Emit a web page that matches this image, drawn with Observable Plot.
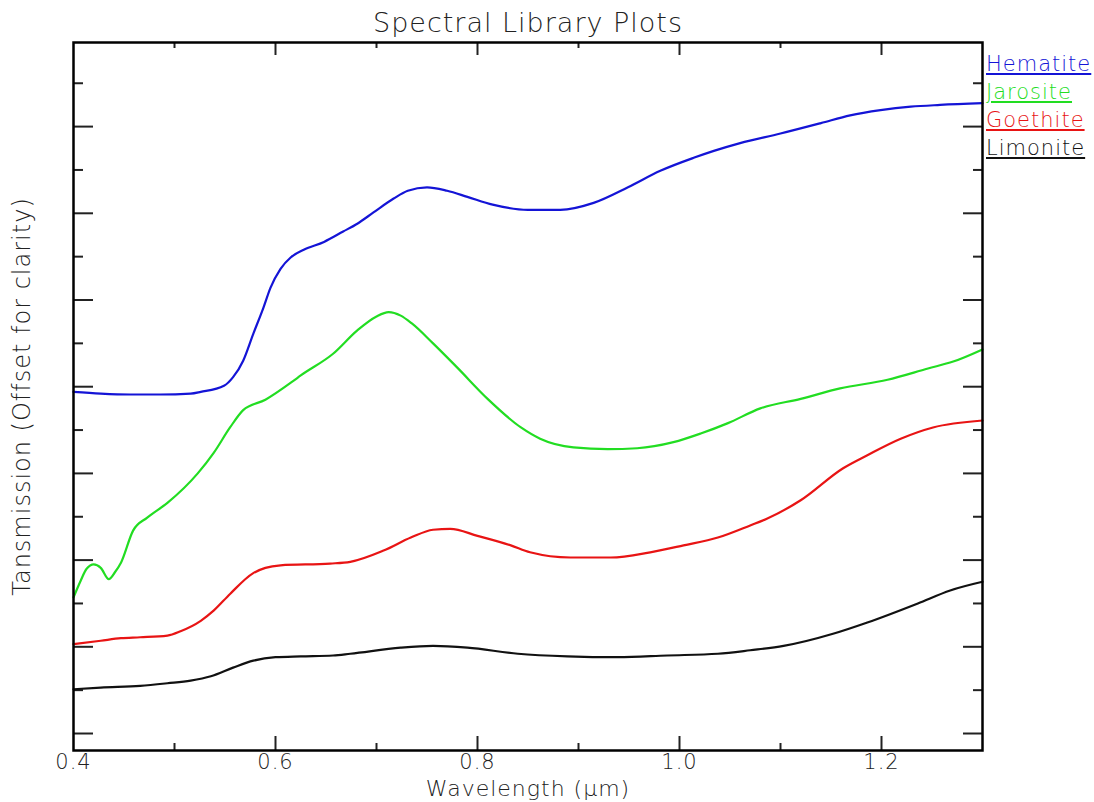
<!DOCTYPE html>
<html>
<head>
<meta charset="utf-8">
<script src="https://cdn.jsdelivr.net/npm/d3@7"></script>
<script src="https://cdn.jsdelivr.net/npm/@observablehq/plot@0.6"></script>
<style>
  html, body { margin: 0; padding: 0; background: #fff; }
  #wrap { position: relative; width: 1094px; height: 802px; }
  #chart svg { display: block; }
  #legend { position: absolute; left: 986px; top: 50px; font-family: 'DejaVu Sans', sans-serif;
            font-weight: 200; font-size: 21px; line-height: 28px; letter-spacing: 1px; }
  #legend div { text-decoration: underline; text-decoration-thickness: 1.5px; text-underline-offset: 2px; white-space: nowrap; }
</style>
</head>
<body>
<div id="wrap">
  <div id="chart"></div>
  <div id="legend"></div>
</div>
<script>
// Wavelength (µm) and offset transmission for each mineral
const hematiteW = [0.400,0.427,0.456,0.486,0.516,0.526,0.549,0.558,0.568,0.578,0.588,0.595,0.605,0.615,0.628,0.648,0.667,0.681,0.697,0.717,0.731,0.750,0.770,0.790,0.815,0.850,0.882,0.915,0.949,0.981,1.014,1.034,1.060,1.100,1.140,1.169,1.199,1.229,1.258,1.300];
const hematiteV = [3.94,3.92,3.91,3.91,3.92,3.94,4.01,4.11,4.30,4.61,4.91,5.14,5.36,5.49,5.58,5.67,5.79,5.88,6.01,6.17,6.26,6.30,6.26,6.19,6.10,6.04,6.04,6.12,6.30,6.49,6.64,6.72,6.81,6.92,7.04,7.13,7.19,7.23,7.25,7.27];

const jarositeW = [0.400,0.407,0.413,0.420,0.427,0.435,0.441,0.447,0.459,0.473,0.493,0.523,0.539,0.555,0.568,0.590,0.618,0.625,0.657,0.681,0.700,0.712,0.724,0.735,0.756,0.780,0.810,0.843,0.862,0.895,0.929,0.958,0.994,1.021,1.048,1.080,1.120,1.159,1.206,1.246,1.271,1.300];
const jarositeV = [1.57,1.76,1.90,1.95,1.91,1.78,1.86,1.97,2.34,2.49,2.66,3.00,3.24,3.53,3.73,3.85,4.07,4.13,4.38,4.65,4.81,4.86,4.82,4.73,4.50,4.22,3.86,3.53,3.40,3.30,3.28,3.29,3.36,3.46,3.58,3.75,3.86,3.98,4.08,4.21,4.29,4.43];

const goethiteW = [0.400,0.427,0.447,0.466,0.493,0.506,0.526,0.539,0.555,0.578,0.590,0.605,0.654,0.674,0.707,0.734,0.756,0.773,0.800,0.833,0.852,0.892,0.932,0.971,1.004,1.038,1.070,1.087,1.120,1.162,1.186,1.219,1.251,1.300];
const goethiteV = [1.03,1.07,1.10,1.11,1.13,1.18,1.30,1.42,1.61,1.85,1.91,1.94,1.96,1.98,2.11,2.26,2.35,2.36,2.28,2.17,2.09,2.03,2.03,2.09,2.17,2.26,2.40,2.48,2.69,3.06,3.21,3.40,3.53,3.61];

const limoniteW = [0.400,0.427,0.466,0.493,0.516,0.536,0.558,0.578,0.600,0.625,0.657,0.674,0.724,0.756,0.790,0.840,0.889,0.939,0.988,1.038,1.070,1.103,1.152,1.186,1.236,1.268,1.300];
const limoniteV = [0.51,0.53,0.55,0.58,0.61,0.66,0.76,0.84,0.88,0.89,0.90,0.92,0.99,1.01,0.99,0.92,0.89,0.88,0.90,0.92,0.96,1.01,1.15,1.28,1.50,1.65,1.75];

const seriesNames = ["Hematite", "Jarosite", "Goethite", "Limonite"];
const seriesColors = ["#1414d6", "#22dd22", "#e81414", "#111111"];

const xLabelTicks = [0.4, 0.6, 0.8, 1.0, 1.2];
const xMajorTicks = [0.6, 0.8, 1.0, 1.2];
const xMinorTicks = [0.5, 0.7, 0.9, 1.1];
const yMajorTicks = [0, 1, 2, 3, 4, 5, 6, 7];
const yMinorTicks = [0.5, 1.5, 2.5, 3.5, 4.5, 5.5, 6.5, 7.5];

const titleText = "Spectral Library Plots";
const xLabelText = "Wavelength (\u03bcm)";
const yLabelText = "Tansmission (Offset for clarity)";

const toRows = (ws, vs) => ws.map((w, i) => ({w, v: vs[i]}));
const seriesData = [
  toRows(hematiteW, hematiteV),
  toRows(jarositeW, jarositeV),
  toRows(goethiteW, goethiteV),
  toRows(limoniteW, limoniteV)
];

const W = 1094, H = 802;
const mL = 73, mR = 112, mT = 42, mB = 52;
const pw = W - mL - mR, ph = H - mT - mB;
const font = "'DejaVu Sans', sans-serif";
const tickColor = "#222";
const textColor = "#222";

const marks = [];
// inward ticks on all four sides
marks.push(Plot.ruleX(xMajorTicks, {insetTop: ph - 14, stroke: tickColor, strokeWidth: 2}));
marks.push(Plot.ruleX(xMinorTicks, {insetTop: ph - 7, stroke: tickColor, strokeWidth: 2}));
marks.push(Plot.ruleX(xMajorTicks, {insetBottom: ph - 13, stroke: tickColor, strokeWidth: 2}));
marks.push(Plot.ruleX(xMinorTicks, {insetBottom: ph - 6, stroke: tickColor, strokeWidth: 2}));
marks.push(Plot.ruleY(yMajorTicks, {insetRight: pw - 20, stroke: tickColor, strokeWidth: 2}));
marks.push(Plot.ruleY(yMinorTicks, {insetRight: pw - 10, stroke: tickColor, strokeWidth: 2}));
marks.push(Plot.ruleY(yMajorTicks, {insetLeft: pw - 19, stroke: tickColor, strokeWidth: 2}));
marks.push(Plot.ruleY(yMinorTicks, {insetLeft: pw - 9, stroke: tickColor, strokeWidth: 2}));

seriesData.forEach((rows, i) => {
  marks.push(Plot.line(rows, {x: "w", y: "v", stroke: seriesColors[i], strokeWidth: 2.2, curve: "monotone-x"}));
});

marks.push(Plot.frame({stroke: "#000", strokeWidth: 2.5}));

marks.push(Plot.axisX(xLabelTicks, {
  tickSize: 0, tickPadding: 4, tickFormat: d3.format(".1f"),
  fontSize: 21, fill: textColor, label: null, fontWeight: 200
}));

// title, axis labels
marks.push(Plot.text([titleText], {frameAnchor: "top", lineAnchor: "middle", dy: -19, fontSize: 27, fontWeight: 200, fill: textColor, text: d => d}));
marks.push(Plot.text([xLabelText], {frameAnchor: "bottom", lineAnchor: "middle", dy: 38, fontSize: 22, fontWeight: 200, fill: textColor, text: d => d}));
marks.push(Plot.text([yLabelText], {frameAnchor: "left", textAnchor: "middle", lineAnchor: "middle", dx: -51, rotate: -90, fontSize: 24, fontWeight: 200, fill: textColor, text: d => d}));

const svg = Plot.plot({
  width: W, height: H,
  marginLeft: mL, marginRight: mR, marginTop: mT, marginBottom: mB,
  style: {fontFamily: font, background: "#fff", overflow: "visible"},
  x: {domain: [0.4, 1.3], axis: null},
  y: {domain: [-0.196, 7.97], axis: null},
  marks
});

// letter spacing for the wide plotter-style lettering
svg.querySelectorAll("text").forEach(t => { t.style.letterSpacing = "1px"; });

document.getElementById("chart").appendChild(svg);

const legend = document.getElementById("legend");
seriesNames.forEach((name, i) => {
  const d = document.createElement("div");
  d.textContent = name;
  d.style.color = seriesColors[i];
  legend.appendChild(d);
});
</script>
</body>
</html>
